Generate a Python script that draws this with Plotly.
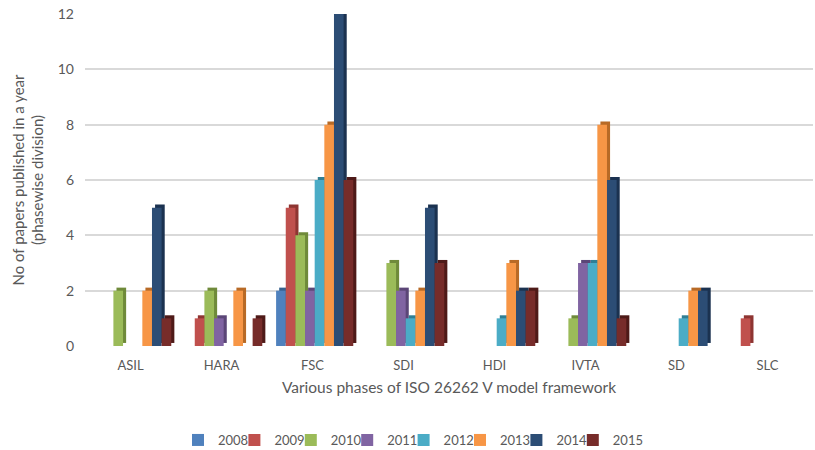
import plotly.graph_objects as go

phases = ["ASIL", "HARA", "FSC", "SDI", "HDI", "IVTA", "SD", "SLC"]
years = ["2008", "2009", "2010", "2011", "2012", "2013", "2014", "2015"]

y2008 = [0, 0, 2, 0, 0, 0, 0, 0]
y2009 = [0, 1, 5, 0, 0, 0, 0, 1]
y2010 = [2, 2, 4, 3, 0, 1, 0, 0]
y2011 = [0, 1, 2, 2, 0, 3, 0, 0]
y2012 = [0, 0, 6, 1, 1, 3, 1, 0]
y2013 = [2, 2, 8, 2, 3, 8, 2, 0]
y2014 = [5, 0, 12, 5, 2, 6, 2, 0]
y2015 = [1, 1, 6, 3, 2, 1, 0, 0]
series = [y2008, y2009, y2010, y2011, y2012, y2013, y2014, y2015]

front_colors = ["#4F81BD", "#C0504D", "#9BBB59", "#8064A2",
                "#4BACC6", "#F79646", "#2C4D75", "#772C2A"]
side_colors = ["#36618F", "#8E3532", "#6F8A3A", "#5B4677",
               "#307F94", "#B86A26", "#1B3250", "#4E1A18"]

W, H = 815, 450
ml, mr, mt, mb = 85, 2, 14, 104
plot_w = W - ml - mr
plot_h = H - mt - mb

bar_w = 0.106          # width of one column in category units
group_start = -0.40    # left edge of the group relative to category centre
dx = 0.034             # depth shift to the right (category units)
dy = 0.11              # depth shift upwards (data units)

# legend entries laid out as a compact row, one small legend per year
legend_left_px = 178
legend_step_px = 56.4
legend_mid_px = 440

font_family = "Lato, 'Open Sans', sans-serif"
legend_layouts = {}

fig = go.Figure()
for i, (yr, vals) in enumerate(zip(years, series)):
    off = group_start + i * bar_w
    leg_id = "legend" if i == 0 else f"legend{i + 1}"
    # receding side/top face, drawn first so the next column covers it
    fig.add_trace(go.Bar(
        x=phases, y=vals, base=dy, offset=off + dx, width=bar_w,
        marker=dict(color=side_colors[i], line=dict(width=0)),
        showlegend=False, hoverinfo="skip"))
    fig.add_trace(go.Bar(
        x=phases, y=vals, offset=off, width=bar_w, name=yr,
        legend=leg_id,
        marker=dict(color=front_colors[i], line=dict(width=0))))
    legend_layouts[leg_id] = dict(
        x=(legend_left_px + i * legend_step_px - ml) / plot_w, xanchor="left",
        y=-(legend_mid_px - (H - mb)) / plot_h, yanchor="middle",
        font=dict(size=13, color="#595959"),
        itemwidth=30, bgcolor="rgba(0,0,0,0)", borderwidth=0)

fig.update_layout(
    width=W, height=H, barmode="overlay",
    margin=dict(l=ml, r=mr, t=mt, b=mb, autoexpand=False),
    paper_bgcolor="white", plot_bgcolor="white",
    font=dict(family=font_family, color="#595959", size=13),
    xaxis=dict(
        type="category", range=[-0.5, 7.5], showgrid=False,
        showline=False, zeroline=False, ticks="",
        tickfont=dict(size=13, color="#595959"),
        ticklabelstandoff=10,
        title=dict(text="Various phases of ISO 26262 V model framework",
                   font=dict(size=15.5, color="#595959"), standoff=10)),
    yaxis=dict(
        range=[0, 12], dtick=2, showgrid=True, gridcolor="#D9D9D9",
        gridwidth=1.5, zeroline=False, showline=False, ticks="",
        tickfont=dict(size=14, color="#595959"),
        ticklabelstandoff=10,
        title=dict(text="No of papers published in a year<br>(phasewise division)",
                   font=dict(size=15, color="#595959"), standoff=10)),
    **legend_layouts,
)

fig.write_html("out.html")
